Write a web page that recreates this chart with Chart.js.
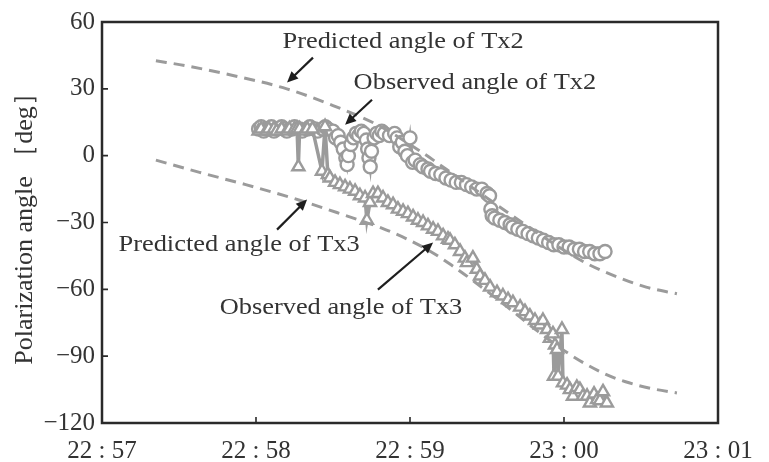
<!DOCTYPE html>
<html>
<head>
<meta charset="utf-8">
<script src="https://cdn.jsdelivr.net/npm/chart.js@4/dist/chart.umd.min.js"></script>
<style>
  body { margin: 0; background: #fff; }
  #wrap { width: 769px; height: 462px; position: relative; }
</style>
</head>
<body>
<div id="wrap"><canvas id="angleChart"></canvas></div>
<script>
// Time axis in seconds after 22:57
const xTickLabels = ['22 : 57', '22 : 58', '22 : 59', '23 : 00', '23 : 01'];

// Predicted angles (dashed curves)
const predTx2Sec = [21, 33, 51, 72, 90, 107, 124, 134, 150, 165, 178, 189, 202, 212, 224];
const predTx2Deg = [42.6, 40.3, 36, 30, 22.5, 14, 2, -6, -19, -31, -41, -48.5, -55, -59, -62];

const predTx3Sec = [21, 38, 56, 77, 94, 109, 119, 128, 136, 145, 158, 170, 182, 195, 204, 214, 224];
const predTx3Deg = [-2, -7.5, -13, -20, -26.5, -32.5, -37.5, -43, -49, -56.5, -68, -79, -89, -97.5, -101.5, -104.5, -106.5];

// Observed angle of Tx2 (circles)
const obsTx2Sec = [61, 62, 63, 64, 66, 67, 68, 70, 71, 72, 74, 75, 77, 78, 80, 81, 83, 84, 86, 87, 88, 90,
  91, 92, 93, 94, 95, 95.5, 96, 97, 98, 99, 100, 101, 102, 103, 103.5, 104, 104.5, 105, 106, 107, 108, 109, 110,
  112, 114, 115, 116, 117, 118, 119, 120, 121, 122, 124, 125, 127, 128, 130, 132, 134, 136, 138, 140, 142, 144,
  146, 148, 150, 151, 151.5, 152, 153, 155, 157, 159, 160, 162, 164, 166, 168, 170, 172, 174, 176, 178, 180,
  182, 184, 186, 188, 190, 192, 194, 196];
const obsTx2Deg = [12, 13, 11, 12, 13, 11, 12, 13, 12, 11, 12, 13, 12, 11, 12, 13, 12, 11, 12, 13, 12, 11,
  8, 9, 6, 3, -1, -4, 0, 5, 8, 10, 9, 11, 10, 7, 3, -1, -5, 2, 8, 10, 9, 11, 10,
  9, 10, 8, 4, 6, 2, 0, 8, -3, -2, -4, -5, -6, -7, -8, -8.5, -10, -11, -12, -12, -13, -14,
  -15, -15, -17, -18, -24, -27, -28, -29, -30, -31, -32, -33, -34, -35, -36, -37, -38, -39, -40, -40, -41,
  -41, -42, -42, -43, -43, -44, -44, -43];

// Observed angle of Tx3 (triangles)
const obsTx3Sec = [61, 62, 64, 65, 67, 68, 70, 72, 73, 75, 76, 76.5, 77, 79, 80, 82, 85.7, 86.9, 88, 88.8,
  90.8, 92.7, 94.7, 96.6, 98.6, 100.5, 102.5, 103.2, 104.4, 105.6, 107.5, 109.5, 111.4, 113.4, 115.3, 117.3,
  119.2, 121.2, 123.1, 125.1, 127, 129, 130.9, 132.9, 134.8, 135.6, 137.5, 139.5, 141.4, 142.2, 144.5, 146,
  147.3, 149.2, 151.2, 153.9, 156.2, 158.2, 160.1, 162.9, 164.8, 166.7, 168.7, 170.6, 171.8, 173.4, 174.5,
  175.7, 176.1, 176.5, 177.3, 177.7, 179.2, 179.6, 181.2, 182.3, 183.5, 185, 186.2, 187.4, 189, 190.1, 191.7,
  192.9, 194, 195.2, 196.7];
const obsTx3Deg = [11, 12, 11, 12, 12, 11, 12, 11, 12, 12, 12, -5, 12, 11, 12, 12, -7, 13, -8.5, -10,
  -12, -13, -14, -15, -16, -18, -19, -29, -21, -17, -17, -19, -21, -22, -24, -25,
  -26, -27.5, -29, -30, -31.5, -33, -34, -36, -37.5, -38, -40, -43, -46, -48, -46, -51,
  -54, -56, -59, -61.5, -63, -64.6, -66, -68, -70, -72, -74, -76, -74, -78, -82,
  -80, -99, -85, -87, -99, -78, -102, -103, -105, -108, -104, -105, -108, -108, -111, -107,
  -109.5, -110, -106, -111];

// Text labels with arrows: text centre, arrow tail, arrow head (data units)
const notes = [
  { text: 'Predicted angle of Tx2', at: [117.3, 51.2], from: [82.2, 44], to: [72.1, 32.8] },
  { text: 'Observed angle of Tx2', at: [145.3, 32.8], from: [105.2, 25.1], to: [94.7, 13.9] },
  { text: 'Predicted angle of Tx3', at: [53.4, -40], from: [68.2, -33.2], to: [79.9, -19.7] },
  { text: 'Observed angle of Tx3', at: [93.1, -68.2], from: [107.5, -60.1], to: [129, -39] }
];

const serif = '"Liberation Serif", "Times New Roman", serif';
const grey = '#9b9b9b';
const ink = '#2a2a2a';

function toPoints(xs, ys) {
    return xs.map((x, i) => ({ x: x, y: ys[i] }));
}

// frame, inward ticks and arrow labels
const decorPlugin = {
    id: 'decor',
    afterDraw(chart) {
        const ctx = chart.ctx;
        const area = chart.chartArea;
        const xs = chart.scales.x;
        const ys = chart.scales.y;
        ctx.save();
        ctx.strokeStyle = ink;
        ctx.lineWidth = 2.5;
        ctx.strokeRect(area.left, area.top, area.right - area.left, area.bottom - area.top);

        ctx.lineWidth = 1.6;
        ctx.beginPath();
        xs.ticks.forEach(t => {
            if (t.value <= xs.min || t.value >= xs.max) return;
            const px = xs.getPixelForValue(t.value);
            ctx.moveTo(px, area.bottom);
            ctx.lineTo(px, area.bottom - 6);
        });
        ys.ticks.forEach(t => {
            if (t.value <= ys.min || t.value >= ys.max) return;
            const py = ys.getPixelForValue(t.value);
            ctx.moveTo(area.left, py);
            ctx.lineTo(area.left + 6, py);
        });
        ctx.stroke();

        notes.forEach(n => {
            const x1 = xs.getPixelForValue(n.from[0]), y1 = ys.getPixelForValue(n.from[1]);
            const x2 = xs.getPixelForValue(n.to[0]), y2 = ys.getPixelForValue(n.to[1]);
            const ang = Math.atan2(y2 - y1, x2 - x1);
            const head = 11;
            ctx.strokeStyle = '#1e1e1e';
            ctx.fillStyle = '#1e1e1e';
            ctx.lineWidth = 2.2;
            ctx.beginPath();
            ctx.moveTo(x1, y1);
            ctx.lineTo(x2 - Math.cos(ang) * head * 0.8, y2 - Math.sin(ang) * head * 0.8);
            ctx.stroke();
            ctx.beginPath();
            ctx.moveTo(x2, y2);
            ctx.lineTo(x2 - head * Math.cos(ang) + 5 * Math.sin(ang), y2 - head * Math.sin(ang) - 5 * Math.cos(ang));
            ctx.lineTo(x2 - head * Math.cos(ang) - 5 * Math.sin(ang), y2 - head * Math.sin(ang) + 5 * Math.cos(ang));
            ctx.closePath();
            ctx.fill();

            ctx.save();
            ctx.translate(xs.getPixelForValue(n.at[0]), ys.getPixelForValue(n.at[1]));
            ctx.scale(1.1, 1);
            ctx.font = '24px ' + serif;
            ctx.fillStyle = '#333';
            ctx.textAlign = 'center';
            ctx.textBaseline = 'middle';
            ctx.fillText(n.text, 0, 0);
            ctx.restore();
        });
        ctx.restore();
    }
};

const ctx = document.getElementById('angleChart').getContext('2d');
new Chart(ctx, {
    type: 'line',
    data: {
        datasets: [
            {
                label: 'Predicted angle of Tx2',
                data: toPoints(predTx2Sec, predTx2Deg),
                borderColor: grey,
                borderWidth: 3,
                borderDash: [11, 7],
                cubicInterpolationMode: 'monotone',
                pointRadius: 0,
                fill: false
            },
            {
                label: 'Predicted angle of Tx3',
                data: toPoints(predTx3Sec, predTx3Deg),
                borderColor: grey,
                borderWidth: 3,
                borderDash: [11, 7],
                cubicInterpolationMode: 'monotone',
                pointRadius: 0,
                fill: false
            },
            {
                label: 'Observed angle of Tx3',
                data: toPoints(obsTx3Sec, obsTx3Deg),
                borderColor: grey,
                borderWidth: 3.5,
                tension: 0,
                pointStyle: 'triangle',
                pointRadius: 7,
                pointBorderWidth: 2.4,
                pointBorderColor: grey,
                pointBackgroundColor: '#fff',
                fill: false
            },
            {
                label: 'Observed angle of Tx2',
                data: toPoints(obsTx2Sec, obsTx2Deg),
                borderColor: grey,
                borderWidth: 3.5,
                tension: 0,
                pointStyle: 'circle',
                pointRadius: 6.5,
                pointBorderWidth: 2.4,
                pointBorderColor: grey,
                pointBackgroundColor: '#fff',
                fill: false
            }
        ]
    },
    options: {
        responsive: true,
        maintainAspectRatio: false,
        animation: false,
        layout: { padding: { top: 22, right: 51, bottom: 0, left: 0 } },
        plugins: {
            legend: { display: false },
            tooltip: { enabled: false }
        },
        scales: {
            x: {
                type: 'linear',
                min: 0,
                max: 240,
                afterFit(axis) { axis.height = 39; },
                grid: { display: false, drawTicks: false },
                border: { display: false },
                ticks: {
                    stepSize: 60,
                    autoSkip: false,
                    maxRotation: 0,
                    padding: 13,
                    color: '#333',
                    font: { family: serif, size: 25 },
                    callback: value => xTickLabels[Math.round(value / 60)]
                }
            },
            y: {
                min: -120,
                max: 60,
                afterFit(axis) { axis.width = 102; },
                grid: { display: false, drawTicks: false },
                border: { display: false },
                ticks: {
                    stepSize: 30,
                    padding: 7,
                    color: '#333',
                    font: { family: serif, size: 25 },
                    callback: value => String(value).replace('-', '\u2212')
                },
                title: {
                    display: true,
                    text: 'Polarization angle \uFF3Bdeg\uFF3D',
                    color: '#333',
                    padding: { top: 10, bottom: 0 },
                    font: { family: serif, size: 26 }
                }
            }
        }
    },
    plugins: [decorPlugin]
});
</script>
</body>
</html>
